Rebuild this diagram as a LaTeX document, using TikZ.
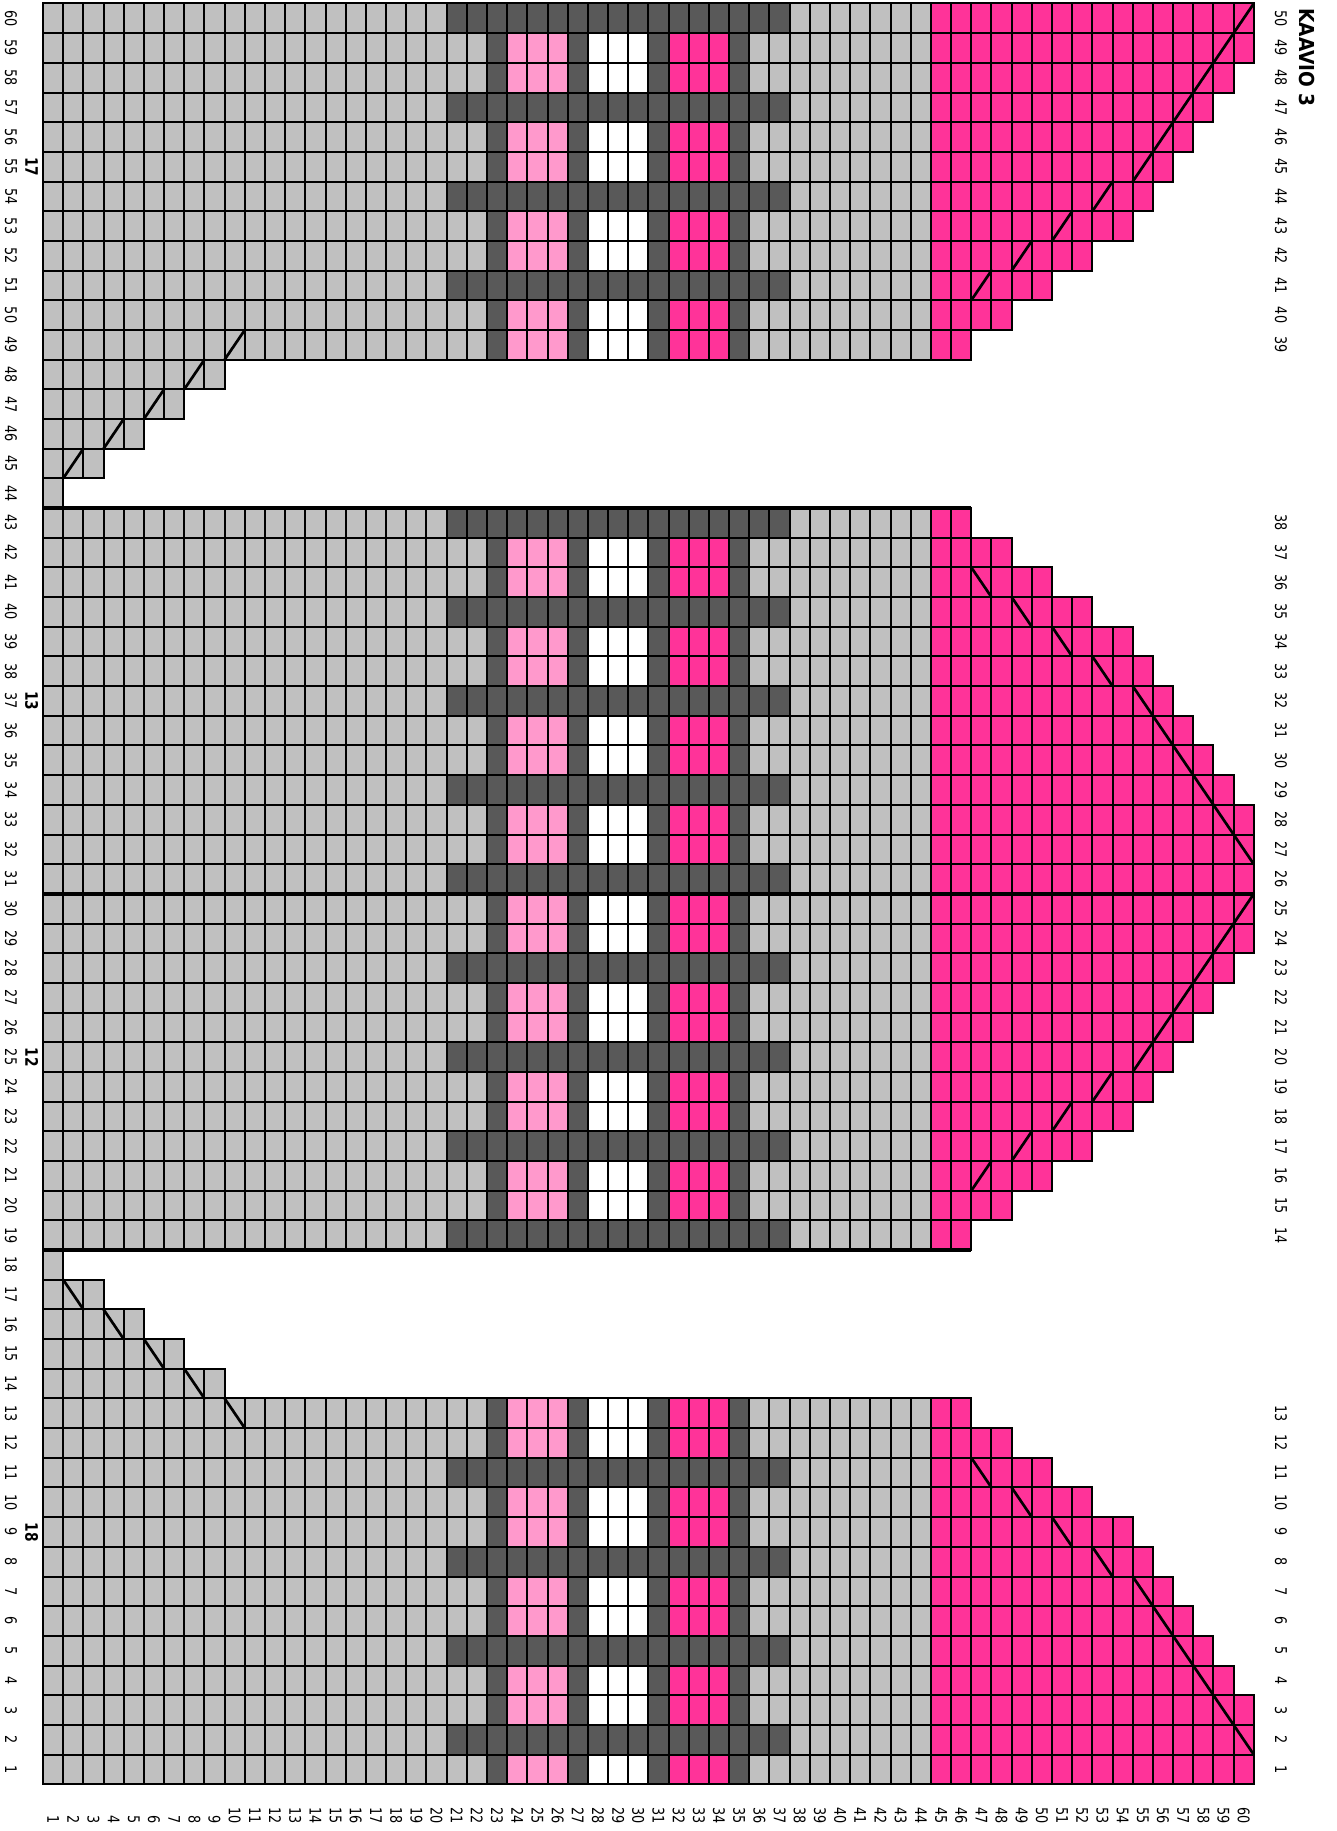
\documentclass[tikz,border=0pt]{standalone}
\usepackage{fontspec}
\setmainfont[FakeStretch=0.8]{DejaVu Sans}
\newfontfamily\titlefont[FakeStretch=0.9]{DejaVu Sans}
\definecolor{cgray}{HTML}{C0C0C0}
\definecolor{cdark}{HTML}{595959}
\definecolor{clpink}{HTML}{FF99CC}
\definecolor{chpink}{HTML}{FF3399}
\tikzset{
  gridline/.style={line width=1pt,black,line cap=rect},
  diagline/.style={line width=1.35pt,black,line cap=round},
  thickline/.style={line width=2.3pt,black},
  lbl/.style={rotate=-90,inner sep=0pt,font=\fontsize{8}{9.6}\selectfont},
  blbl/.style={rotate=-90,inner sep=0pt,font=\fontsize{8.6}{10}\selectfont\bfseries},
}
\def\Rlist{{60,60,60,59,58,57,56,55,54,52,50,48,46,9,7,5,3,1,46,48,50,52,54,55,56,57,58,59,60,60,60,60,60,59,58,57,56,55,54,52,50,48,46,1,3,5,7,9,46,48,50,52,54,55,56,57,58,59,60,60}}
\begin{document}
\begin{tikzpicture}[x=10.09pt,y=14.84pt]
\useasboundingbox (-21.5pt,-23.35pt) rectangle (647pt,892.15pt);
% cell fills
\foreach \r in {1,...,60}{
  \pgfmathtruncatemacro{\rmax}{\Rlist[\r-1]}
  \ifnum\rmax<10
    \fill[cgray] (0,\r-1) rectangle (\rmax,\r);
  \else
    \fill[cgray] (0,\r-1) rectangle (44,\r);
    \fill[cdark] (22,\r-1) rectangle (23,\r);
    \fill[clpink] (23,\r-1) rectangle (26,\r);
    \fill[cdark] (26,\r-1) rectangle (27,\r);
    \fill[white] (27,\r-1) rectangle (30,\r);
    \fill[cdark] (30,\r-1) rectangle (31,\r);
    \fill[chpink] (31,\r-1) rectangle (34,\r);
    \fill[cdark] (34,\r-1) rectangle (35,\r);
    \fill[chpink] (44,\r-1) rectangle (\rmax,\r);
  \fi
}
% dark bands
\foreach \r in {2,5,8,11,19,22,25,28,31,34,37,40,43,51,54,57,60}
  \fill[cdark] (20,\r-1) rectangle (37,\r);
% grid lines
\foreach \r in {1,...,60}{
  \pgfmathtruncatemacro{\rmax}{\Rlist[\r-1]}
  \draw[gridline] (0,\r-1) -- (\rmax,\r-1);
  \draw[gridline] (0,\r) -- (\rmax,\r);
  \foreach \c in {0,...,\rmax}
    \draw[gridline] (\c,\r-1) -- (\c,\r);
}
% decrease marks
\foreach \c/\r in {2/17,4/16,6/15,8/14,10/13,47/11,49/10,51/9,53/8,55/7,56/6,57/5,58/4,59/3,60/2,47/41,49/40,51/39,53/38,55/37,56/36,57/35,58/34,59/33,60/32}
  \draw[diagline] (\c-1,\r) -- (\c,\r-1);
\foreach \c/\r in {2/45,4/46,6/47,8/48,10/49,47/21,49/22,51/23,53/24,55/25,56/26,57/27,58/28,59/29,60/30,47/51,49/52,51/53,53/54,55/55,56/56,57/57,58/58,59/59,60/60}
  \draw[diagline] (\c-1,\r-1) -- (\c,\r);
% thick section lines
\draw[thickline] (0,18) -- (46,18);
\draw[thickline] (0,43) -- (46,43);
\draw[thickline] (0,30) -- (60,30);
% left row numbers
\foreach \r in {1,...,60}
  \node[lbl] (L\r) at (-1.586,\r-0.5) {\r};
% bold markers
\node[blbl] (m18) at (-0.56,8.5) {18};
\node[blbl] (m12) at (-0.56,24.5) {12};
\node[blbl] (m13) at (-0.56,36.5) {13};
\node[blbl] (m17) at (-0.56,54.5) {17};
% right row numbers
\foreach \r in {1,...,13}
  \node[lbl] (Ra\r) at (61.35,\r-0.5) {\r};
\foreach \r [evaluate=\r as \t using int(\r-5)] in {19,...,43}
  \node[lbl] (Rb\r) at (61.35,\r-0.5) {\t};
\foreach \r [evaluate=\r as \t using int(\r-10)] in {49,...,60}
  \node[lbl] (Rc\r) at (61.35,\r-0.5) {\t};
% column numbers
\foreach \c in {1,...,60}
  \node[lbl,anchor=east] (B\c) at (\c-0.5,-1.338) {\c};
% title
\node[rotate=-90,anchor=west,inner sep=0pt,font=\titlefont\bfseries\fontsize{10.3}{12}\selectfont] (title) at (62.64,59.85) {KAAVIO 3};
\end{tikzpicture}
\end{document}
